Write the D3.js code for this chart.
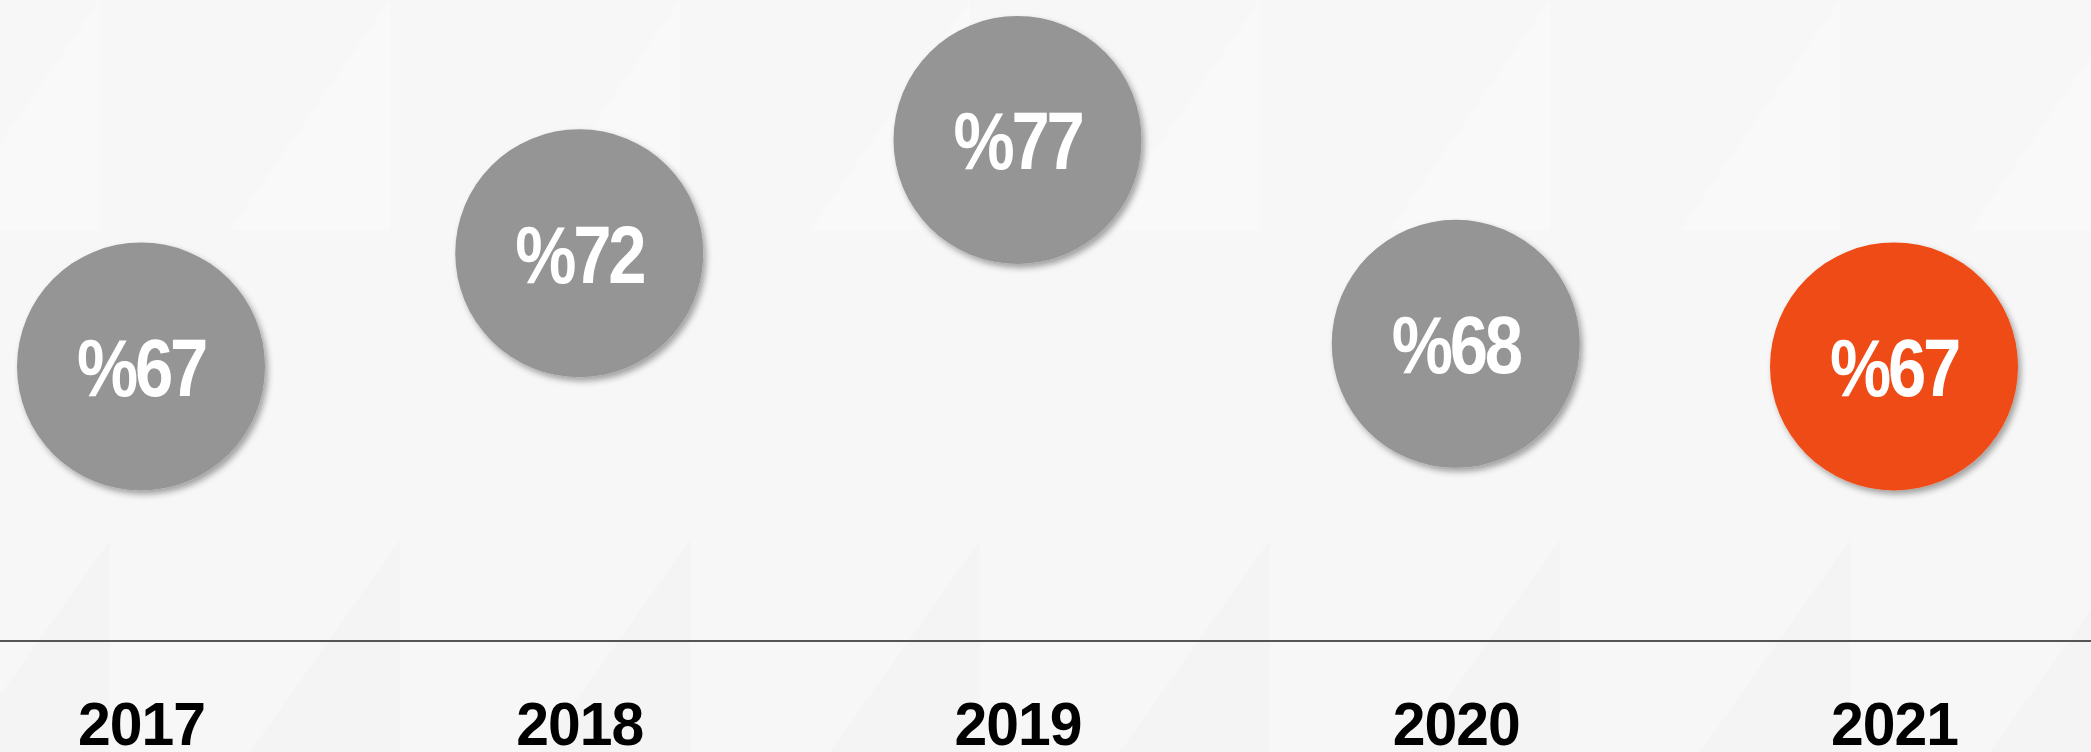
<!DOCTYPE html>
<html>
<head>
<meta charset="utf-8">
<script src="https://cdn.jsdelivr.net/npm/d3@7"></script>
<style>
  html, body { margin: 0; padding: 0; background: #f7f7f7; overflow: hidden; }
  .year text { font-family: "Liberation Sans", Arial, sans-serif; }
</style>
</head>
<body>
<div id="chart"></div>
<script>
var years = ["2017", "2018", "2019", "2020", "2021"];
var values = [67, 72, 77, 68, 67];
var highlight = [false, false, false, false, true];

var grey = "#959595", orange = "#ef4b16";

function drawBubbles(divName) {
    var width = 2091, height = 752;

    var data = years.map(function (y, i) {
        return {year: y, value: values[i], hot: highlight[i]};
    });

    var x = d3.scalePoint()
        .domain(years)
        .range([141, 1894]);

    var y = d3.scaleLinear()
        .domain([60, 80])
        .range([525, 72]);

    var svg = d3.select('#' + divName)
        .append('svg')
        .attr('width', width)
        .attr('height', height);

    var defs = svg.append("defs");
    var f = defs.append("filter")
        .attr("id", "shadow")
        .attr("x", "-20%").attr("y", "-20%")
        .attr("width", "140%").attr("height", "140%");
    f.append("feDropShadow")
        .attr("dx", 3).attr("dy", 4)
        .attr("stdDeviation", 3)
        .attr("flood-color", "#000")
        .attr("flood-opacity", 0.35);

    // faint background facets
    var bg = svg.append("g").attr("class", "bg");
    bg.append("rect").attr("width", width).attr("height", height).attr("fill", "#f7f7f7");
    d3.range(0, width + 300, 290).forEach(function (bx) {
        bg.append("path")
            .attr("d", "M" + (bx - 60) + ",230L" + (bx + 100) + ",0L" + (bx + 100) + ",230Z")
            .attr("fill", "#f9f9f9");
        bg.append("path")
            .attr("d", "M" + (bx - 40) + ",752L" + (bx + 110) + ",540L" + (bx + 110) + ",752Z")
            .attr("fill", "#f4f4f4");
    });

    // baseline
    svg.append("line")
        .attr("x1", 0).attr("x2", width)
        .attr("y1", 641).attr("y2", 641)
        .style("stroke", "#555")
        .style("stroke-width", 2);

    var axis = svg.append("g")
        .attr("class", "year")
        .attr("transform", "translate(0,641)")
        .call(d3.axisBottom(x).tickSize(0).tickPadding(0));
    axis.select(".domain").remove();
    axis.selectAll(".tick text")
        .attr("y", 0)
        .attr("dy", 0)
        .attr("transform", "translate(0,104) scale(0.95,1)")
        .style("font-size", "62px")
        .style("letter-spacing", "-1px")
        .style("font-weight", "bold")
        .attr("fill", "#000");

    var g = svg.append("g");

    var dot = g.selectAll(".dot")
        .data(data)
        .enter().append("g")
        .attr("class", "dot")
        .attr("transform", function (d) {
            return "translate(" + x(d.year) + "," + y(d.value) + ")";
        });

    dot.append("circle")
        .attr("r", 124)
        .style("fill", function (d) { return d.hot ? orange : grey; })
        .attr("filter", "url(#shadow)");

    dot.append("text")
        .attr("text-anchor", "middle")
        .attr("dy", "0.36em")
        .attr("transform", "scale(0.84,1)")
        .style("font-family", '"Liberation Sans", Arial, sans-serif')
        .style("font-size", "82px")
        .style("letter-spacing", "-4px")
        .style("font-weight", "bold")
        .style("fill", "#fff")
        .text(function (d) { return "%" + d.value; });
}

drawBubbles("chart");
</script>
</body>
</html>
